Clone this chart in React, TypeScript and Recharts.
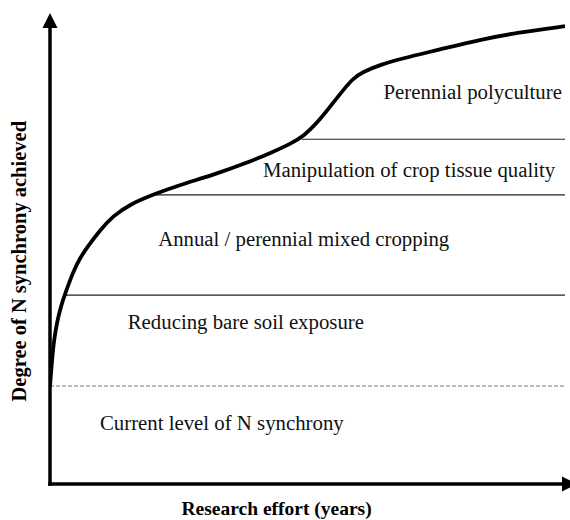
import { ComposedChart, Line, XAxis, YAxis, ReferenceLine, ReferenceDot, Label } from 'recharts';

// Research effort (arbitrary 0-100) vs degree of N synchrony (arbitrary 0-100)
const curveX = [0, 0.39, 0.78, 1.36, 2.14, 2.91, 4.47, 5.83, 7.38, 9.71, 12.23, 15.53, 20.39, 25.24, 31.65, 38.25, 43.3, 46.6, 49.13, 52.43, 55.73, 58.83, 60.78, 64.08, 68.54, 75.15, 84.08, 90.68, 100];
const curveY = [20.8, 26.3, 30.6, 34.4, 37.8, 40.3, 45.0, 48.0, 50.5, 53.9, 56.9, 59.4, 61.6, 63.5, 65.6, 68.2, 70.5, 72.2, 73.7, 77.3, 82.0, 86.2, 87.5, 89.0, 90.4, 92.1, 94.5, 95.8, 97.2];
const curveData = curveX.map((x, i) => ({ x, y: curveY[i] }));

const currentLevel = 20.8;
const bandLevels = [40.1, 61.4, 73.2];
const bandStarts = [2.9, 20.4, 48.9];

const labelTexts = [
  'Perennial polyculture',
  'Manipulation of crop tissue quality',
  'Annual / perennial mixed cropping',
  'Reducing bare soil exposure',
  'Current level of N synchrony',
];
const labelX = [99.4, 98.1, 21.0, 15.1, 9.7];
const labelY = [81.7, 65.2, 50.5, 32.9, 11.5];
const labelAnchor = ['end', 'end', 'start', 'start', 'start'];

const xTitle = 'Research effort (years)';
const yTitle = 'Degree of N synchrony achieved';

const serif = '"Liberation Serif", "Times New Roman", Times, serif';

const XTitle = (props: any) => {
  const vb = props.viewBox;
  return (
    <text x={vb.x + vb.width * 0.44} y={vb.y + 31} textAnchor="middle" style={{ fontFamily: serif, fontWeight: 'bold', fontSize: 19.5 }} fill="#000">
      {xTitle}
    </text>
  );
};

const YTitle = (props: any) => {
  const vb = props.viewBox;
  const x = vb.x + 26;
  const y = vb.y + vb.height * 0.527;
  return (
    <text x={x} y={y} transform={`rotate(-90 ${x} ${y})`} textAnchor="middle" style={{ fontFamily: serif, fontWeight: 'bold', fontSize: 20.5 }} fill="#000">
      {yTitle}
    </text>
  );
};

export default function App() {
  return (
    <div style={{ position: 'absolute', left: 0, top: 0 }}>
      <ComposedChart width={570} height={520} data={curveData} margin={{ top: 13, right: 5, left: 0, bottom: 0 }}>
        <XAxis
          type="number"
          dataKey="x"
          domain={[0, 100]}
          allowDataOverflow
          tick={false}
          tickLine={false}
          axisLine={false}
          height={36}
          label={<Label content={XTitle} />}
        />
        <YAxis
          type="number"
          domain={[0, 100]}
          allowDataOverflow
          tick={false}
          tickLine={false}
          axisLine={false}
          width={50}
          label={<Label content={YTitle} />}
        />

        <ReferenceLine
          segment={[{ x: 0, y: currentLevel }, { x: 100, y: currentLevel }]}
          stroke="#777"
          strokeWidth={1}
          strokeDasharray="4 2"
        />
        {bandLevels.map((lvl, i) => (
          <ReferenceLine
            key={`band-${i}`}
            segment={[{ x: bandStarts[i], y: lvl }, { x: 100, y: lvl }]}
            stroke="#222"
            strokeWidth={1.2}
          />
        ))}

        {labelTexts.map((t, i) => (
          <ReferenceDot
            key={`lbl-${i}`}
            x={labelX[i]}
            y={labelY[i]}
            r={0}
            ifOverflow="visible"
            shape={(p: any) => (
              <text x={p.cx} y={p.cy} textAnchor={labelAnchor[i] as any} style={{ fontFamily: serif, fontSize: 20.8 }} fill="#111">
                {t}
              </text>
            )}
          />
        ))}

        <Line
          type="basis"
          dataKey="y"
          stroke="#000"
          strokeWidth={3.8}
          dot={false}
          activeDot={false}
          legendType="none"
          isAnimationActive={false}
        />

        {/* axes with arrowheads */}
        <ReferenceLine segment={[{ x: 0, y: 0 }, { x: 0, y: 97 }]} stroke="#000" strokeWidth={3.5} strokeLinecap="square" ifOverflow="visible" />
        <ReferenceLine segment={[{ x: 0, y: 0 }, { x: 100, y: 0 }]} stroke="#000" strokeWidth={3.5} strokeLinecap="square" ifOverflow="visible" />
        <ReferenceDot
          x={0}
          y={100}
          r={0}
          ifOverflow="visible"
          shape={(p: any) => <polygon points={`${p.cx - 7.5},${p.cy + 15} ${p.cx + 7.5},${p.cy + 15} ${p.cx},${p.cy}`} fill="#000" />}
        />
        <ReferenceDot
          x={100}
          y={0}
          r={0}
          ifOverflow="visible"
          shape={(p: any) => <polygon points={`${p.cx - 3},${p.cy - 7.5} ${p.cx - 3},${p.cy + 7.5} ${p.cx + 12},${p.cy}`} fill="#000" />}
        />
      </ComposedChart>
    </div>
  );
}
